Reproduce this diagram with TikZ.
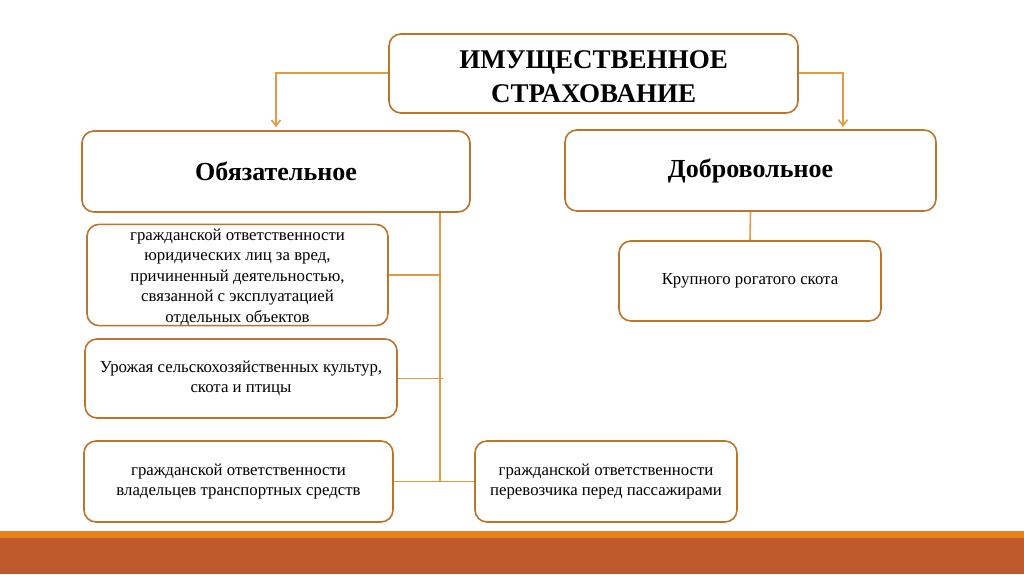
\documentclass[tikz,border=0pt]{standalone}
\usepackage{fontspec}
\setmainfont{Liberation Serif}
\definecolor{boxColor}{HTML}{B8752C}
\definecolor{lineColor}{HTML}{E39A45}
\definecolor{stripColor}{HTML}{E8821E}
\definecolor{barColor}{HTML}{BE5A2C}
\usepackage{tikz}
\usetikzlibrary{arrows.meta, positioning, calc}
\tikzset{
  box/.style={draw=boxColor, line width=1.6pt, rounded corners=12pt, fill=white, inner sep=0pt, align=center},
  smallbox/.style={box, font=\fontsize{16.8}{20.5}\selectfont},
  headbox/.style={box, font=\bfseries\fontsize{26}{30}\selectfont},
  link/.style={draw=lineColor, line width=1.6pt}
}

\begin{document}
\begin{tikzpicture}[x=1pt, y=-1pt, >={Straight Barb[length=6pt, width=9pt]}]
        \useasboundingbox (0,0) rectangle (1024,574);

        % Bottom bar
        \fill[stripColor] (0,531) rectangle (1024,538);
        \fill[barColor] (0,538) rectangle (1024,574);

        % Top box
        \node[box, minimum width=409pt, minimum height=79pt, font=\bfseries\fontsize{27}{34}\selectfont] (top) at (593.5,73.5) {\rule{0pt}{24pt}ИМУЩЕСТВЕННОЕ\\СТРАХОВАНИЕ};

        % Second level
        \node[headbox, minimum width=388pt, minimum height=81pt] (oblig) at (276,171.5) {Обязательное};
        \node[headbox, minimum width=371pt, minimum height=81pt] (dobr) at (750.5,170.5) {Добровольное};

        % Leaves
        \node[smallbox, minimum width=301pt, minimum height=100pt] (civil) at (237.5,275) {\rule{0pt}{16pt}гражданской ответственности\\юридических лиц за вред,\\причиненный деятельностью,\\связанной с эксплуатацией\\отдельных объектов};
        \node[smallbox, minimum width=312pt, minimum height=79pt] (crop) at (241,378.5) {Урожая сельскохозяйственных культур,\\скота и птицы};
        \node[smallbox, minimum width=309pt, minimum height=81pt] (owner) at (238.5,481.5) {гражданской ответственности\\владельцев транспортных средств};
        \node[smallbox, minimum width=262pt, minimum height=81pt] (carrier) at (606,481.5) {гражданской ответственности\\перевозчика перед пассажирами};
        \node[smallbox, minimum width=262pt, minimum height=80pt] (cattle) at (750,281) {Крупного рогатого скота};

        % Connectors
        \coordinate (ltip) at (274,73);
        \coordinate (rtip) at (843,127);
        \coordinate (trunk) at (440,482);
        \draw[link, ->, shorten >=3pt] (ltip -| top.west) -| (oblig.north);
        \draw[link, ->] (ltip -| top.east) -| (rtip);
        \draw[link] (oblig.south -| trunk) -- (trunk);
        \draw[link] (civil.east) -- (civil.east -| trunk);
        \draw[link] (crop.east) -- ($(crop.east -| trunk)+(3,0)$);
        \draw[link] (owner.east) -- (carrier.west);
        \draw[link] (dobr.south) -- (cattle.north);
    \end{tikzpicture}
\end{document}
